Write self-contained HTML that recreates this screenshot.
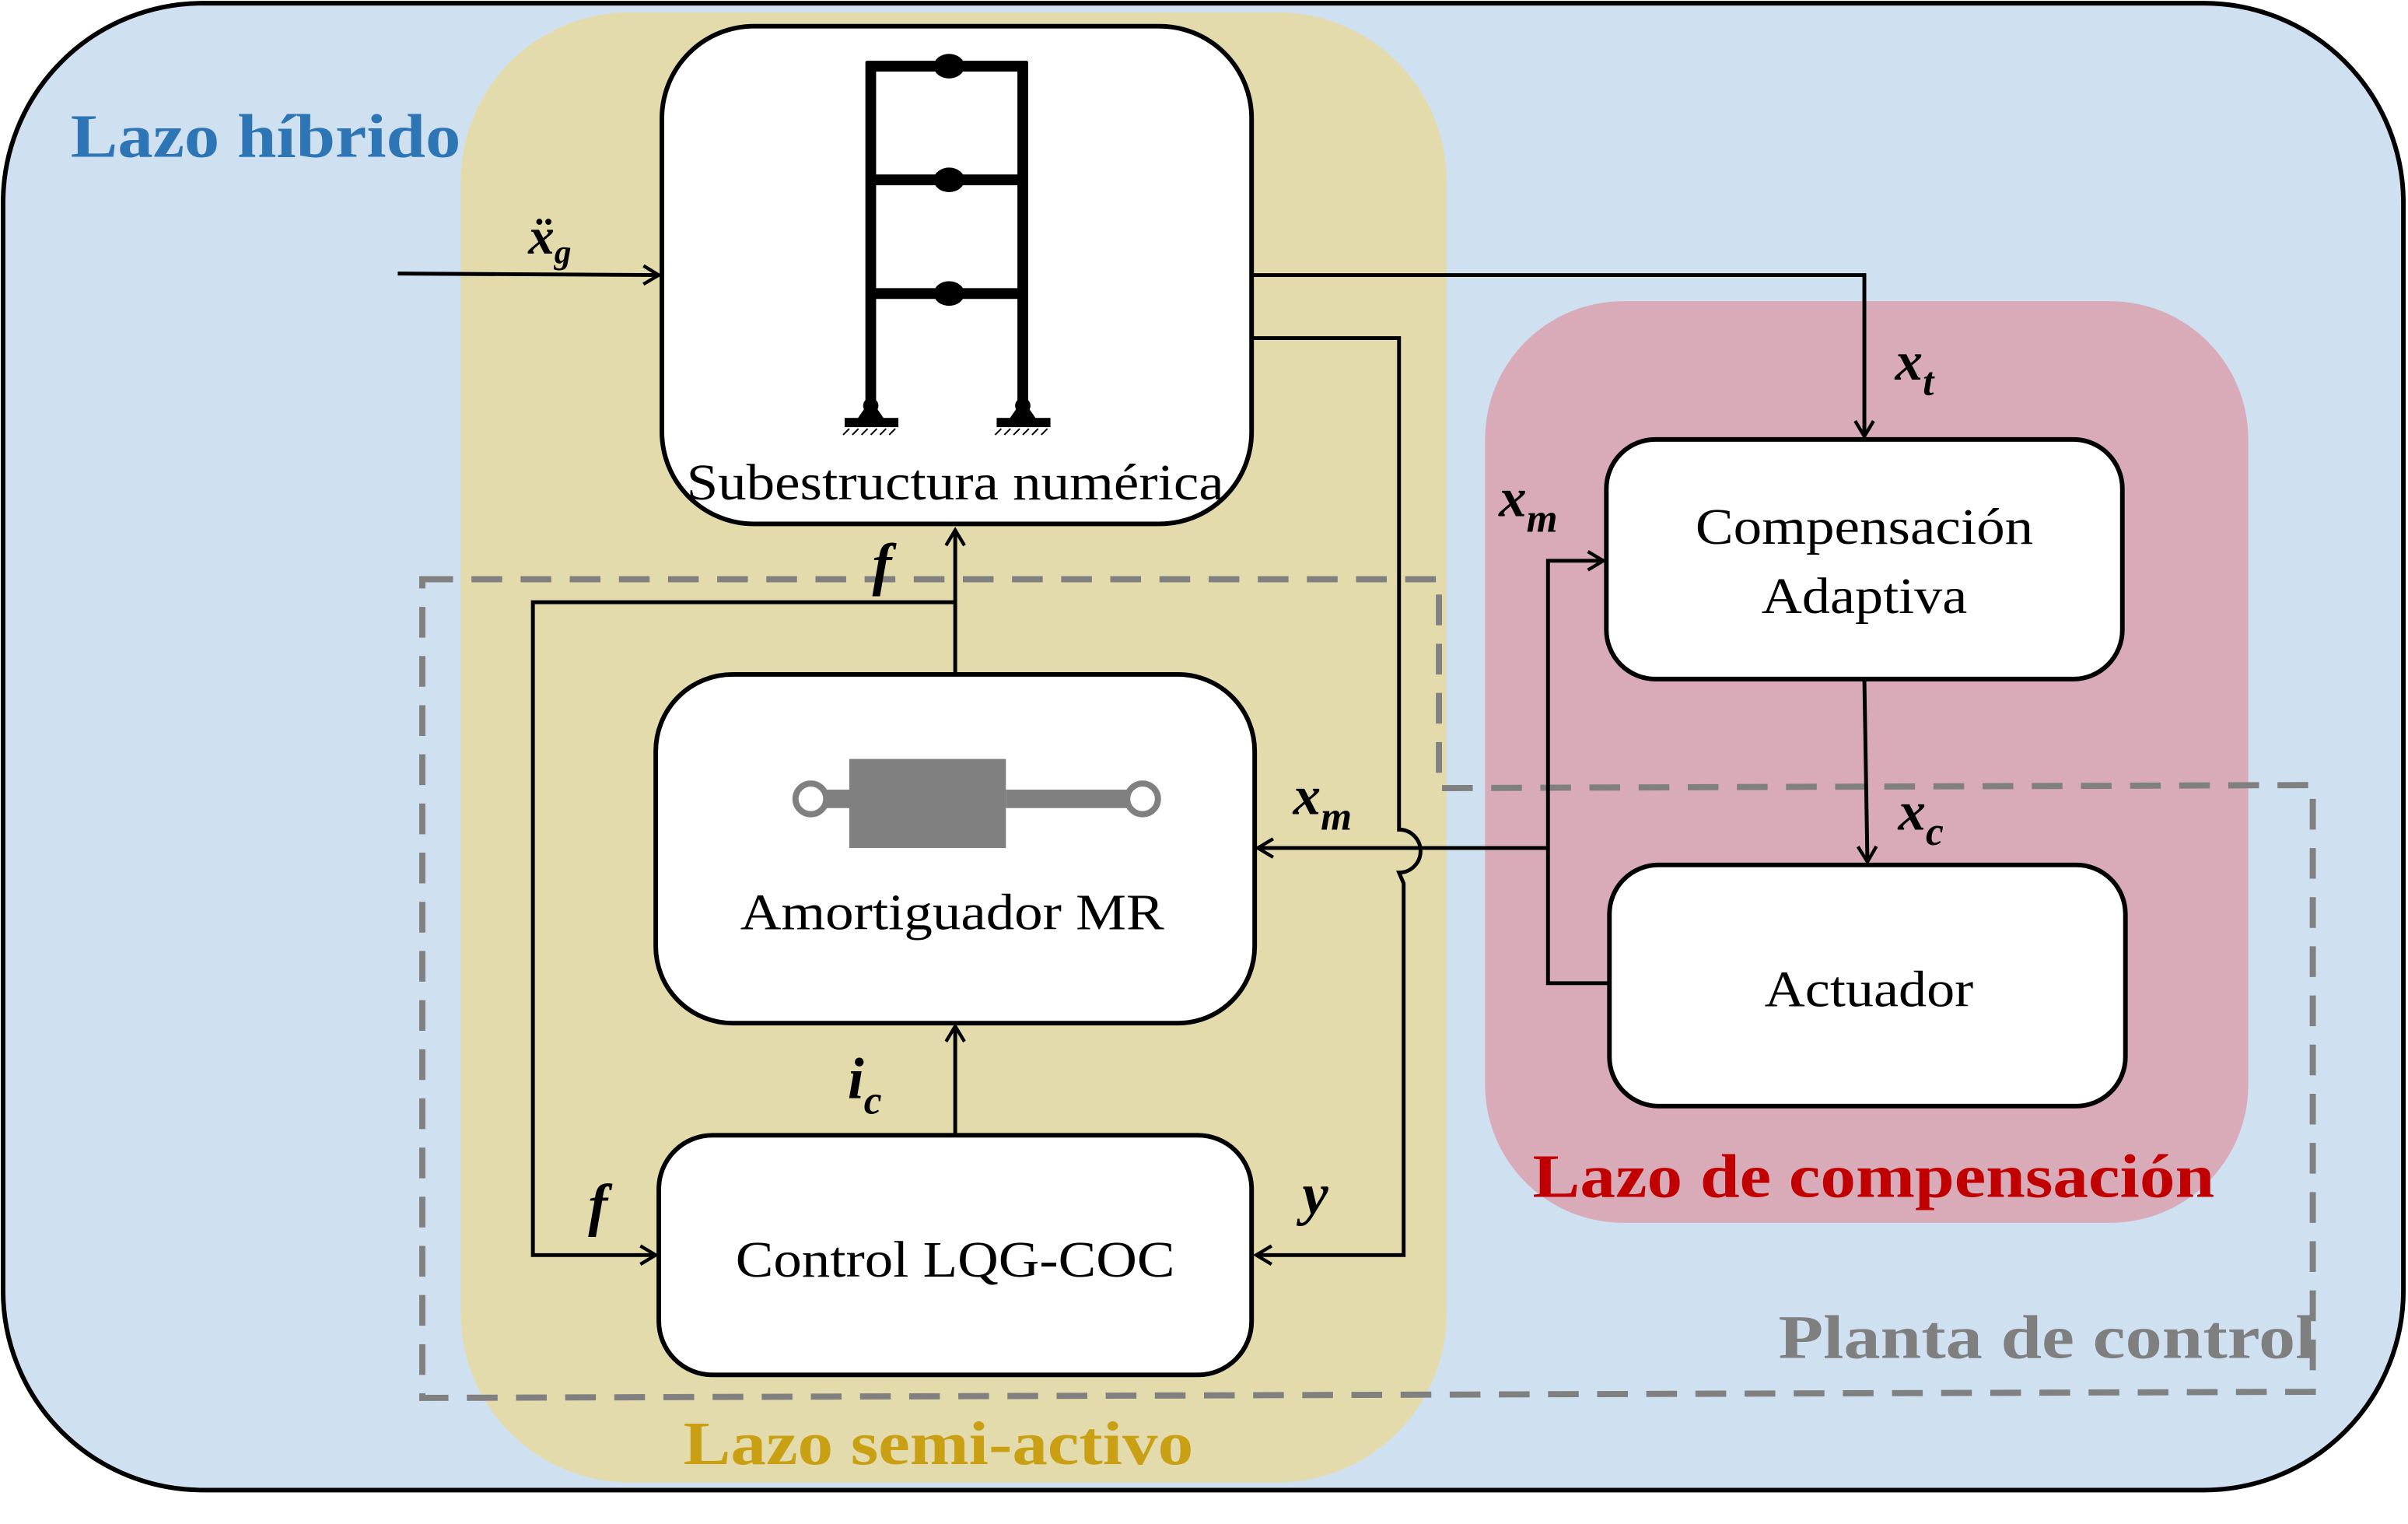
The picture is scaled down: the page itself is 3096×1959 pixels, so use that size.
<!DOCTYPE html>
<html><head><meta charset="utf-8"><style>html,body{margin:0;padding:0;background:#fff}svg{display:block}</style></head>
<body>
<svg width="3096" height="1959" viewBox="0 0 1568 992" xmlns="http://www.w3.org/2000/svg" font-family="'Liberation Serif', serif">
<defs>
<marker id="a" markerWidth="14" markerHeight="14" refX="12" refY="7" orient="auto" markerUnits="userSpaceOnUse">
<polyline points="2,1 12,7 2,13" fill="none" stroke="#000" stroke-width="2.2"/>
</marker>
</defs>
<rect x="2" y="2" width="1563" height="968" rx="130" fill="#cfe0f1" stroke="#000" stroke-width="3"/>
<rect x="300" y="8" width="642" height="957" rx="110" fill="#e3dbab"/>
<rect x="967" y="196" width="497" height="600" rx="90" fill="#d9abb8"/>
<polygon points="275,377 937,377 937,513 1506,511 1506,906 275,910" fill="none" stroke="#808080" stroke-width="4" stroke-dasharray="20,12"/>

<!-- boxes -->
<rect x="431" y="17" width="384" height="324" rx="60" fill="#fff" stroke="#000" stroke-width="3"/>
<rect x="427" y="439" width="390" height="227" rx="50" fill="#fff" stroke="#000" stroke-width="3"/>
<rect x="429" y="739" width="386" height="156" rx="35" fill="#fff" stroke="#000" stroke-width="3"/>
<rect x="1046" y="286" width="336" height="156" rx="32" fill="#fff" stroke="#000" stroke-width="3"/>
<rect x="1048" y="563" width="336" height="157" rx="32" fill="#fff" stroke="#000" stroke-width="3"/>

<!-- frame -->
<g stroke="#000" stroke-width="7" fill="none">
<line x1="567" y1="40" x2="567" y2="265"/><line x1="666" y1="40" x2="666" y2="265"/>
<line x1="564" y1="43" x2="669" y2="43"/><line x1="567" y1="117" x2="666" y2="117"/><line x1="567" y1="191" x2="666" y2="191"/>
</g>
<g fill="#000">
<ellipse cx="618" cy="43" rx="10" ry="8"/><ellipse cx="618" cy="117" rx="10" ry="8"/><ellipse cx="618" cy="191" rx="10" ry="8"/>
<polygon points="558,273 567,260 576,273"/><circle cx="567" cy="264" r="5"/><rect x="550" y="272" width="35" height="6"/>
<polygon points="657,273 666,260 675,273"/><circle cx="666" cy="264" r="5"/><rect x="649" y="272" width="35" height="6"/>
</g>
<g stroke="#000" stroke-width="1"><path d="M549,283l4,-4M555,283l4,-4M561,283l4,-4M567,283l4,-4M573,283l4,-4M579,283l4,-4M648,283l4,-4M654,283l4,-4M660,283l4,-4M666,283l4,-4M672,283l4,-4M678,283l4,-4"/></g>

<!-- damper -->
<rect x="553" y="494" width="102" height="58" fill="#808080"/>
<rect x="655" y="514" width="80" height="12" fill="#808080"/>
<rect x="538" y="514" width="16" height="12" fill="#808080"/>
<circle cx="528" cy="520" r="10" fill="#fff" stroke="#808080" stroke-width="4"/>
<circle cx="744" cy="520" r="10" fill="#fff" stroke="#808080" stroke-width="4"/>

<!-- box texts -->
<g font-size="33" text-anchor="middle" fill="#000">
<text x="622" y="325" textLength="350" lengthAdjust="spacingAndGlyphs">Subestructura numérica</text>
<text x="620" y="605" textLength="276" lengthAdjust="spacingAndGlyphs">Amortiguador MR</text>
<text x="622" y="831" textLength="286" lengthAdjust="spacingAndGlyphs">Control LQG-COC</text>
<text x="1214" y="354" textLength="220" lengthAdjust="spacingAndGlyphs">Compensación</text>
<text x="1214" y="399" textLength="134" lengthAdjust="spacingAndGlyphs">Adaptiva</text>
<text x="1217" y="655" textLength="136" lengthAdjust="spacingAndGlyphs">Actuador</text>
</g>

<!-- connectors -->
<g stroke="#000" stroke-width="2.5" fill="none">
<line x1="259" y1="178" x2="429" y2="179" marker-end="url(#a)"/>
<polyline points="815,179 1214,179 1214,284" marker-end="url(#a)"/>
<path d="M815,220 H911 V540 A14,14 0 0 1 911,568 L914,575 V817 H818" marker-end="url(#a)"/>
<line x1="1008" y1="552" x2="819" y2="552" marker-end="url(#a)"/>
<polyline points="1048,640 1008,640 1008,365 1044,365" marker-end="url(#a)"/>
<line x1="1214" y1="442" x2="1216" y2="561" marker-end="url(#a)"/>
<line x1="622" y1="438" x2="622" y2="345" marker-end="url(#a)"/>
<polyline points="622,392 347,392 347,817 427,817" marker-end="url(#a)"/>
<line x1="622" y1="739" x2="622" y2="668" marker-end="url(#a)"/>
</g>

<!-- signal labels -->
<g font-weight="bold" font-style="italic" fill="#000">
<text x="344" y="165" font-size="34">ẍ<tspan font-size="22" dy="6">g</tspan></text>
<text x="1234" y="247" font-size="36">x<tspan font-size="26" dy="10">t</tspan></text>
<text x="976" y="336" font-size="36">x<tspan font-size="26" dy="10">m</tspan></text>
<text x="842" y="530" font-size="36">x<tspan font-size="26" dy="10">m</tspan></text>
<text x="1236" y="540" font-size="36">x<tspan font-size="26" dy="10">c</tspan></text>
<text x="568" y="380" font-size="38">f</text>
<text x="383" y="797" font-size="38">f</text>
<text x="552" y="715" font-size="38">i<tspan font-size="26" dy="10">c</tspan></text>
<text x="848" y="790" font-size="38">y</text>
</g>

<!-- region labels -->
<g font-weight="bold" font-size="40">
<text x="46" y="102" fill="#2e75b6" textLength="254" lengthAdjust="spacingAndGlyphs">Lazo híbrido</text>
<text x="611" y="953" fill="#c9a013" text-anchor="middle" textLength="332" lengthAdjust="spacingAndGlyphs">Lazo semi-activo</text>
<text x="1220" y="779" fill="#c00000" text-anchor="middle" textLength="444" lengthAdjust="spacingAndGlyphs">Lazo de compensación</text>
<text x="1333" y="884" fill="#7f7f7f" text-anchor="middle" textLength="350" lengthAdjust="spacingAndGlyphs">Planta de control</text>
</g>
</svg>
</body></html>
